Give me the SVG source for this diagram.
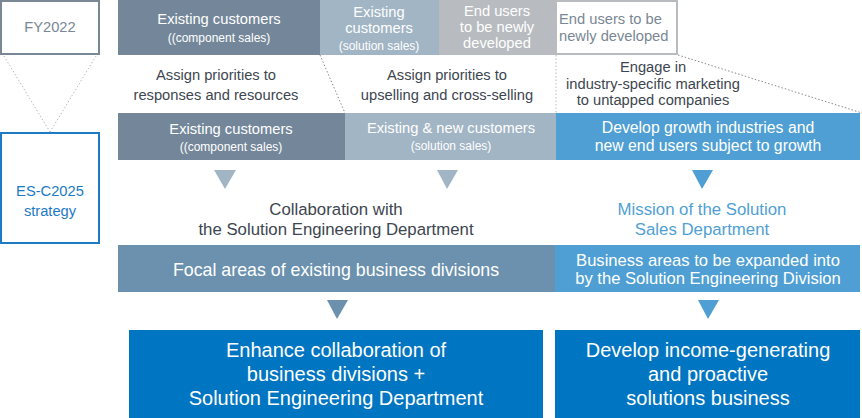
<svg xmlns="http://www.w3.org/2000/svg" width="862" height="418" viewBox="0 0 862 418">
<style>
text{font-family:"Liberation Sans","Noto Sans",Arial,sans-serif;text-anchor:middle}
.w{fill:#fff}
.t14{font-size:14.7px}
.t10{font-size:12px}
.t16b{font-size:15.8px}
.t15{font-size:16.8px}
.t15b{font-size:16.6px}
.t16{font-size:17.8px}
.t18{font-size:20px}
.dk{fill:#3d4650}
.gy{fill:#7a8794}
.bl{fill:#4f9fd4}
.dot{stroke:#888;stroke-width:1;stroke-dasharray:1.5 2;fill:none}
.dotl{stroke:#bbb;stroke-width:1;stroke-dasharray:1.5 2;fill:none}
</style>
<rect width="862" height="418" fill="#fff"/>
<g id="connectors">
<path class="dotl" d="M4 56 L50 132 M96 56 L50 132"/>
<path class="dot" d="M320 55 L345 113"/>
<path class="dotl" d="M556 55 L556 113"/>
<path class="dot" d="M678 55 L862 113"/>
<polygon points="214,170 236,170 225,189" fill="#a2b5c4"/>
<polygon points="437,170 458,170 447,189" fill="#a2b5c4"/>
<polygon points="692,170 713,170 702,189" fill="#4f9fd4"/>
<polygon points="327,300 348,300 337,319" fill="#6b91ae"/>
<polygon points="698,300 719,300 708,319" fill="#4f9fd4"/>
</g>
<g id="fy2022">
<rect x="1" y="1" width="98" height="53" fill="#fff" stroke="#7a8794" stroke-width="2"/>
<text x="50" y="32" class="t14 gy">FY2022</text>
</g>
<g id="es-c2025">
<rect x="1" y="133" width="98" height="110" fill="#fff" stroke="#1d7ac4" stroke-width="2"/>
<text x="50" y="196" class="t14" fill="#1d7ac4">ES-C2025</text>
<text x="50" y="216" class="t14" fill="#1d7ac4">strategy</text>
</g>
<g id="top-existing">
<rect x="118" y="0" width="202" height="55" fill="#74879a"/>
<text x="219" y="24" class="t14 w">Existing customers</text>
<text x="219" y="42" class="t10 w">((component sales)</text>
</g>
<g id="top-solution">
<rect x="320" y="0" width="119" height="55" fill="#a2b5c4"/>
<text x="379" y="17" class="t14 w">Existing</text>
<text x="379" y="33" class="t14 w">customers</text>
<text x="379" y="50" class="t10 w">(solution sales)</text>
</g>
<g id="top-endusers">
<rect x="439" y="0" width="116" height="55" fill="#b8bcc0"/>
<text x="497" y="16" class="t14 w">End users</text>
<text x="497" y="32" class="t14 w">to be newly</text>
<text x="497" y="48" class="t14 w">developed</text>
</g>
<g id="top-endusers-new">
<rect x="556" y="1" width="121" height="53" fill="#fff" stroke="#b8bcc0" stroke-width="2"/>
<text x="559" y="24" class="t14 gy" style="text-anchor:start">End users to be</text>
<text x="559" y="41" class="t14 gy" style="text-anchor:start">newly developed</text>
</g>
<g id="note1">
<text x="216" y="80" class="t14 dk">Assign priorities to</text>
<text x="216" y="100" class="t14 dk">responses and resources</text>
</g>
<g id="note2">
<text x="447" y="80" class="t14 dk">Assign priorities to</text>
<text x="447" y="100" class="t14 dk">upselling and cross-selling</text>
</g>
<g id="note3">
<text x="653" y="72" class="t14 dk">Engage in</text>
<text x="653" y="89" class="t14 dk">industry-specific marketing</text>
<text x="653" y="105" class="t14 dk">to untapped companies</text>
</g>
<g id="mid-existing">
<rect x="118" y="113" width="227" height="47" fill="#74879a"/>
<text x="231" y="134" class="t14 w">Existing customers</text>
<text x="231" y="151" class="t10 w">((component sales)</text>
</g>
<g id="mid-solution">
<rect x="345" y="113" width="211" height="47" fill="#a2b5c4"/>
<text x="451" y="133" class="t14 w">Existing &amp; new customers</text>
<text x="451" y="150" class="t10 w">(solution sales)</text>
</g>
<g id="mid-growth">
<rect x="556" y="113" width="304" height="47" fill="#4f9fd4"/>
<text x="708" y="133" class="t16b w">Develop growth industries and</text>
<text x="708" y="151" class="t16b w">new end users subject to growth</text>
</g>
<g id="collab">
<text x="336" y="215" class="t15 dk">Collaboration with</text>
<text x="336" y="235" class="t15 dk">the Solution Engineering Department</text>
</g>
<g id="mission">
<text x="702" y="215" class="t15 bl">Mission of the Solution</text>
<text x="702" y="235" class="t15 bl">Sales Department</text>
</g>
<g id="focal">
<rect x="118" y="245" width="437" height="47" fill="#6b91ae"/>
<text x="336" y="276" class="t16 w">Focal areas of existing business divisions</text>
</g>
<g id="expand">
<rect x="555" y="245" width="305" height="47" fill="#4f9fd4"/>
<text x="708" y="266" class="t15b w">Business areas to be expanded into</text>
<text x="708" y="284" class="t15b w">by the Solution Engineering Division</text>
</g>
<g id="enhance">
<rect x="129" y="330" width="414" height="88" fill="#0075c2"/>
<text x="336" y="357" class="t18 w">Enhance collaboration of</text>
<text x="336" y="381" class="t18 w">business divisions +</text>
<text x="336" y="405" class="t18 w">Solution Engineering Department</text>
</g>
<g id="develop">
<rect x="555" y="330" width="305" height="88" fill="#0075c2"/>
<text x="708" y="357" class="t18 w">Develop income-generating</text>
<text x="708" y="381" class="t18 w">and proactive</text>
<text x="708" y="405" class="t18 w">solutions business</text>
</g>
</svg>
